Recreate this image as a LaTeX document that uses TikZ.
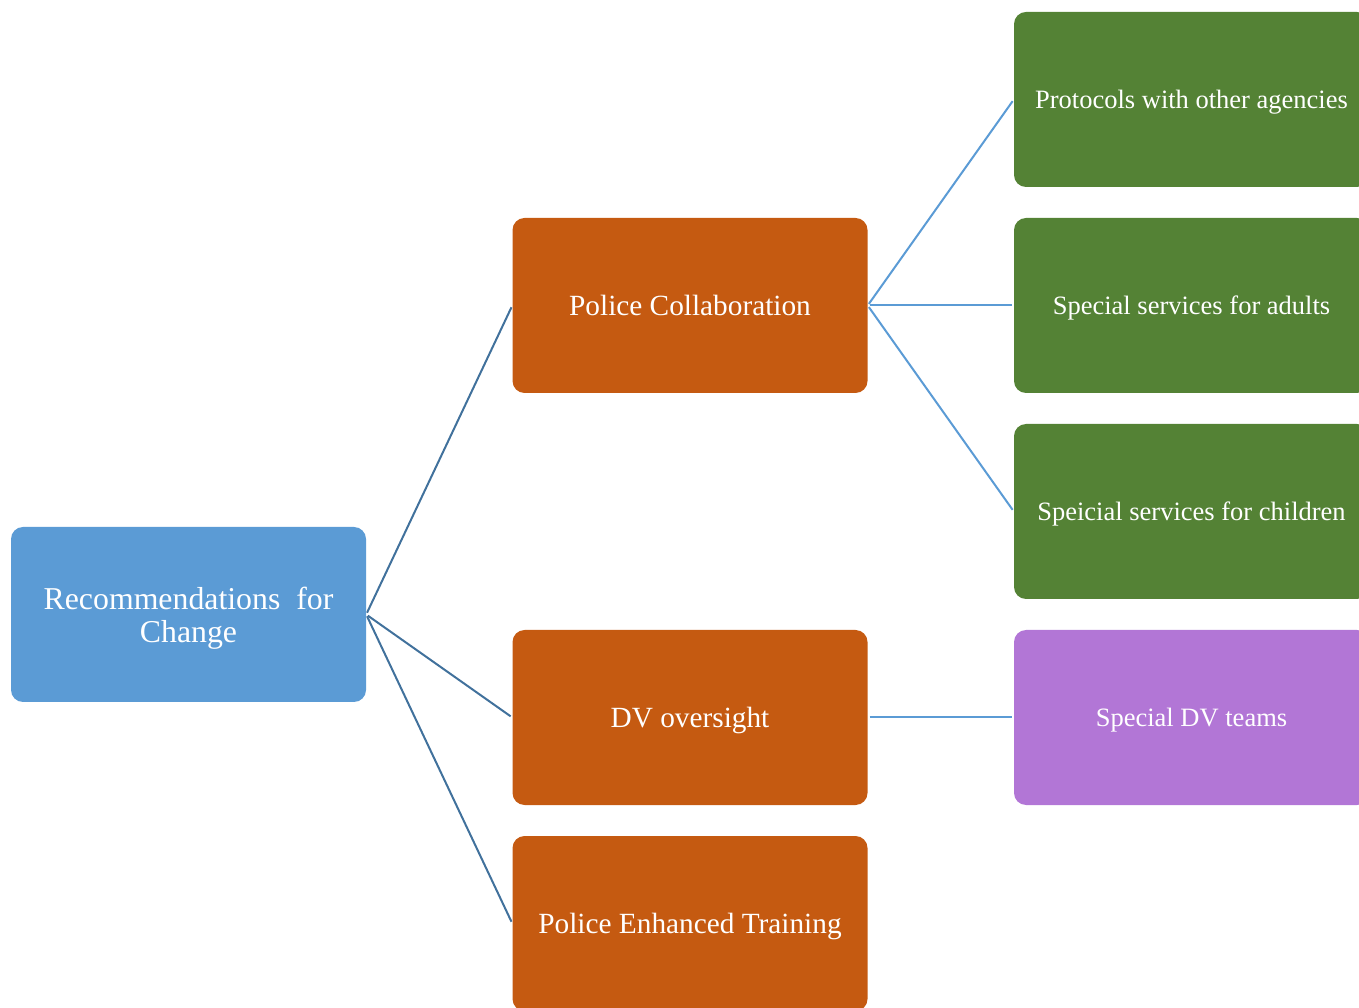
\documentclass[tikz,border=0pt]{standalone}
\usepackage{fontspec}
\setmainfont{Liberation Serif}
\definecolor{rootblue}{HTML}{5B9BD5}
\definecolor{midorange}{HTML}{C55A11}
\definecolor{leafgreen}{HTML}{548235}
\definecolor{leafpurple}{HTML}{B276D6}
\definecolor{linkdark}{HTML}{41719C}
\definecolor{linklight}{HTML}{5B9BD5}
\begin{document}
\begin{tikzpicture}[x=1pt,y=1pt,
  box/.style={rounded corners=12pt,minimum width=355pt,minimum height=175pt,inner sep=0pt,text depth=0pt,text=white,align=center},
  rootbox/.style={box,fill=rootblue,font=\fontsize{31.8}{33}\selectfont},
  midbox/.style={box,fill=midorange,font=\fontsize{29.3}{33}\selectfont},
  leafbox/.style={box,fill=leafgreen,font=\fontsize{26.5}{30}\selectfont},
  teambox/.style={leafbox,fill=leafpurple},
  link/.style={line width=2pt,linkdark,shorten <=2pt,shorten >=2pt},
  sublink/.style={link,linklight}]
\useasboundingbox (0,0) rectangle (1359,1007);
\node [rootbox] (root) at (188.5,392.5) {Recommendations\ \ for\\Change};
\node [midbox] (collab) at (690,701.5) {Police Collaboration};
\node [midbox] (oversight) at (690,289.5) {DV oversight};
\node [midbox] (training) at (690,83.5) {Police Enhanced Training};
\node [leafbox] (protocols) at (1191.5,907.5) {Protocols with other agencies};
\node [leafbox] (adults) at (1191.5,701.5) {Special services for adults};
\node [leafbox] (children) at (1191.5,495.5) {Speicial services for children};
\node [teambox] (teams) at (1191.5,289.5) {Special DV teams};
\draw [link] (root.east) -- (collab.west);
\draw [link] (root.east) -- (oversight.west);
\draw [link] (root.east) -- (training.west);
\draw [sublink] (collab.east) -- (protocols.west);
\draw [sublink] (collab.east) -- (adults.west);
\draw [sublink] (collab.east) -- (children.west);
\draw [sublink] (oversight.east) -- (teams.west);
\end{tikzpicture}
\end{document}
